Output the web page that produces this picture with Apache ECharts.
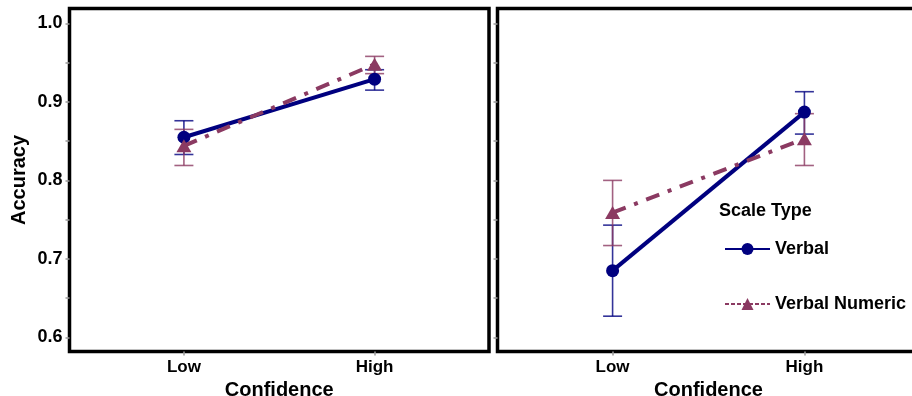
<!DOCTYPE html>
<html>
<head>
<meta charset="utf-8">
<script src="https://cdn.jsdelivr.net/npm/echarts@6/dist/echarts.min.js"></script>
<style>
html,body{margin:0;padding:0;background:#fff;}
#c{width:912px;height:396px;}
</style>
</head>
<body>
<div id="c"></div>
<script>
// ---- data ----
const categories = ['Low', 'High'];
const catPos = [1, 2];
const yTickLabels = [0.6, 0.7, 0.8, 0.9, 1.0];
const yMinorTicks = [0.65, 0.75, 0.85, 0.95];

// Left panel
const leftVerbal = [0.855, 0.929];
const leftVerbalLo = [0.833, 0.915];
const leftVerbalHi = [0.876, 0.941];
const leftNumeric = [0.844, 0.948];
const leftNumericLo = [0.819, 0.936];
const leftNumericHi = [0.865, 0.958];

// Right panel
const rightVerbal = [0.685, 0.887];
const rightVerbalLo = [0.627, 0.859];
const rightVerbalHi = [0.743, 0.913];
const rightNumeric = [0.759, 0.853];
const rightNumericLo = [0.717, 0.819];
const rightNumericHi = [0.800, 0.885];

const seriesNames = ['Verbal', 'Verbal Numeric'];
const legendTitle = 'Scale Type';
const xTitle = 'Confidence';
const yTitle = 'Accuracy';

// ---- styling ----
const NAVY = '#00007f';
const MAROON = '#8b3a62';
const FONT = 'Liberation Sans';

function pts(vals) { return catPos.map((x, i) => [x, vals[i]]); }
function errPts(lo, hi) { return catPos.map((x, i) => [x, lo[i], hi[i]]); }

function errRender(color) {
  return function (params, api) {
    const x = api.value(0), lo = api.value(1), hi = api.value(2);
    const a = api.coord([x, lo]), b = api.coord([x, hi]);
    const hw = 9.5;
    const style = { stroke: color, lineWidth: 1.6, opacity: 0.8 };
    return {
      type: 'group', children: [
        { type: 'line', shape: { x1: a[0], y1: a[1], x2: b[0], y2: b[1] }, style },
        { type: 'line', shape: { x1: a[0] - hw, y1: a[1], x2: a[0] + hw, y2: a[1] }, style },
        { type: 'line', shape: { x1: b[0] - hw, y1: b[1], x2: b[0] + hw, y2: b[1] }, style }
      ]
    };
  };
}

const allYTicks = yTickLabels.concat(yMinorTicks).sort((a, b) => a - b);

function makeX(idx) {
  return {
    type: 'value', gridIndex: idx, min: 0.4, max: 2.6,
    name: xTitle, nameLocation: 'middle', nameGap: 23,
    nameTextStyle: { fontFamily: FONT, fontWeight: 'bold', fontSize: 20, color: '#000' },
    axisLine: { show: false },
    splitLine: { show: false },
    axisTick: { show: true, customValues: catPos, length: 4, lineStyle: { color: '#999', width: 1.5 } },
    axisLabel: {
      customValues: catPos, margin: 7,
      formatter: v => categories[catPos.indexOf(v)] || '',
      fontFamily: FONT, fontWeight: 'bold', fontSize: 17, color: '#000'
    }
  };
}
function makeY(idx, showLabels) {
  return {
    type: 'value', gridIndex: idx, min: 0.582, max: 1.019,
    name: showLabels ? yTitle : '', nameLocation: 'middle', nameGap: 40,
    nameTextStyle: { fontFamily: FONT, fontWeight: 'bold', fontSize: 20, color: '#000' },
    axisLine: { show: false },
    splitLine: { show: false },
    axisTick: { show: true, customValues: allYTicks, length: 4, lineStyle: { color: '#999', width: 1.5 } },
    axisLabel: {
      show: showLabels, customValues: yTickLabels, margin: 7,
      formatter: v => v.toFixed(1),
      fontFamily: FONT, fontWeight: 'bold', fontSize: 18, color: '#000'
    }
  };
}

function lineSeries(name, data, idx, isNumeric) {
  return {
    name: name, type: 'line', xAxisIndex: idx, yAxisIndex: idx,
    data: pts(data), z: isNumeric ? 4 : 3,
    symbol: isNumeric ? 'triangle' : 'circle',
    symbolSize: isNumeric ? [15, 13] : 13,
    itemStyle: { color: isNumeric ? MAROON : NAVY },
    lineStyle: isNumeric
      ? { color: MAROON, width: 4, type: [14, 9, 4, 9] }
      : { color: NAVY, width: 4 },
    animation: false
  };
}
function errSeries(name, lo, hi, idx, color) {
  return {
    name: name, type: 'custom', xAxisIndex: idx, yAxisIndex: idx,
    data: errPts(lo, hi), z: 2, renderItem: errRender(color),
    encode: { x: 0, y: [1, 2] }, animation: false
  };
}

const chart = echarts.init(document.getElementById('c'), null, { renderer: 'canvas' });
const gridCommon = { top: 8.5, height: 343, show: true, borderColor: '#000', borderWidth: 3.5,
  backgroundColor: 'transparent', containLabel: false, outerBoundsMode: 'none' };
chart.setOption({
  backgroundColor: '#fff',
  animation: false,
  title: {
    text: legendTitle, left: 719, top: 202, padding: 0,
    textStyle: { fontFamily: FONT, fontWeight: 'bold', fontSize: 18, color: '#000' }
  },
  legend: {
    data: [
      { name: seriesNames[0] },
      { name: seriesNames[1], lineStyle: { width: 2, type: [4, 2] } }
    ],
    orient: 'vertical', left: 724, top: 240, padding: 0,
    itemWidth: 45, itemHeight: 15, itemGap: 37,
    textStyle: { fontFamily: FONT, fontWeight: 'bold', fontSize: 18, color: '#000' },
    selectedMode: false
  },
  grid: [
    Object.assign({ left: 69.5, width: 419.5 }, gridCommon),
    Object.assign({ left: 497.5, width: 422 }, gridCommon)
  ],
  xAxis: [makeX(0), makeX(1)],
  yAxis: [makeY(0, true), makeY(1, false)],
  series: [
    errSeries('errV0', leftVerbalLo, leftVerbalHi, 0, NAVY),
    errSeries('errN0', leftNumericLo, leftNumericHi, 0, MAROON),
    errSeries('errV1', rightVerbalLo, rightVerbalHi, 1, NAVY),
    errSeries('errN1', rightNumericLo, rightNumericHi, 1, MAROON),
    lineSeries(seriesNames[0], leftVerbal, 0, false),
    lineSeries(seriesNames[1], leftNumeric, 0, true),
    lineSeries(seriesNames[0], rightVerbal, 1, false),
    lineSeries(seriesNames[1], rightNumeric, 1, true)
  ]
});
</script>
</body>
</html>
